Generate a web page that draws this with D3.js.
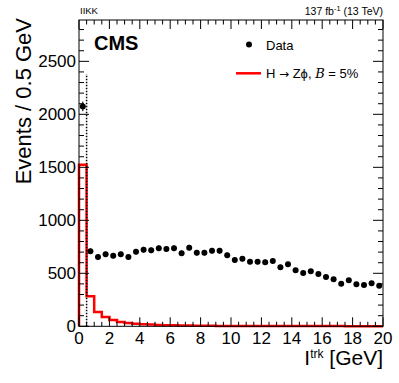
<!DOCTYPE html>
<html><head><meta charset="utf-8">
<script src="https://cdn.jsdelivr.net/npm/d3@7"></script>
<style>body{margin:0;background:#fff}svg{display:block;font-family:"Liberation Sans",Arial,sans-serif}</style>
</head><body>
<svg id="c" width="399" height="383"></svg>
<script>
// bin edges: 0..20 in 0.5 GeV steps (40 bins)
const binLow = d3.range(0, 20, 0.5);
const dataCounts = [2075,708,654,679,666,679,654,704,723,717,736,729,736,689,742,694,694,713,713,670,
  625,638,610,610,604,616,557,585,528,503,519,493,465,443,402,434,396,390,406,383];
const signal = [1525,283,135,88,59,41,31,25,20,16,13,11,9,8,7,6,5,5,4,4,
  4,3,3,3,3,3,2,2,2,2,2,2,2,2,2,1,1,1,1,1];
const xTicks = [0,2,4,6,8,10,12,14,16,18,20];
const yTicks = [0,500,1000,1500,2000,2500];
const cutValue = 0.5, cutTop = 2380;

const svg = d3.select("#c");
const L=79, R=383, T=20, B=326.3;
const x = d3.scaleLinear().domain([0,20]).range([L,R]);
const y = d3.scaleLinear().domain([0,2890]).range([B,T]);

// signal histogram outline
const pts = [[0,0]];
signal.forEach((v,i)=>{ pts.push([binLow[i],v]); pts.push([binLow[i]+0.5,v]); });
svg.append("path").attr("d", d3.line().x(d=>x(d[0])).y(d=>y(d[1]))(pts))
  .attr("fill","none").attr("stroke","#ff0000").attr("stroke-width",2.5);

// cut line
svg.append("line").attr("x1",x(cutValue)).attr("x2",x(cutValue)).attr("y1",y(0)).attr("y2",y(cutTop))
  .attr("stroke","#000").attr("stroke-width",1.5).attr("stroke-dasharray","1.5,1.5");

// data points with sqrt(N) error bars
const g = svg.append("g");
dataCounts.forEach((v,i)=>{
  const cx = x(binLow[i]+0.25), e=Math.sqrt(v);
  g.append("line").attr("x1",cx).attr("x2",cx).attr("y1",y(v-e)).attr("y2",y(v+e)).attr("stroke","#000").attr("stroke-width",1);
  g.append("circle").attr("cx",cx).attr("cy",y(v)).attr("r",3).attr("fill","#000");
});

// frame
svg.append("rect").attr("x",L).attr("y",T).attr("width",R-L).attr("height",B-T)
  .attr("fill","none").attr("stroke","#000").attr("stroke-width",1);

// ticks
const tk = svg.append("g").attr("stroke","#000").attr("stroke-width",1);
d3.range(0,20.001,0.5).forEach(v=>{
  const major = Math.abs(v/2-Math.round(v/2))<1e-6, len = major?9:4.5, px=x(v);
  tk.append("line").attr("x1",px).attr("x2",px).attr("y1",B).attr("y2",B-len);
  tk.append("line").attr("x1",px).attr("x2",px).attr("y1",T).attr("y2",T+len);
});
d3.range(0,2801,100).forEach(v=>{
  const major = v%500===0, len = major?10:5, py=y(v);
  tk.append("line").attr("x1",L).attr("x2",L+len).attr("y1",py).attr("y2",py);
  tk.append("line").attr("x1",R).attr("x2",R-len).attr("y1",py).attr("y2",py);
});

// tick labels
svg.append("g").selectAll("text").data(xTicks).join("text")
  .attr("x",d=>x(d)).attr("y",343.5).attr("text-anchor","middle").attr("font-size",17).text(d=>d);
svg.append("g").selectAll("text").data(yTicks).join("text")
  .attr("x",76).attr("y",d=>y(d)+6).attr("text-anchor","end").attr("font-size",17).text(d=>d);

// axis titles
const xt = svg.append("text").attr("x",R).attr("y",365).attr("text-anchor","end").attr("font-size",21);
xt.append("tspan").text("I");
xt.append("tspan").attr("dy",-7).attr("font-size",12).text("trk");
xt.append("tspan").attr("dy",7).text(" [GeV]");
svg.append("text").attr("transform","translate(31,18) rotate(-90)").attr("text-anchor","end")
  .attr("font-size",22).text("Events / 0.5 GeV");

// header texts
svg.append("text").attr("x",80).attr("y",14).attr("font-size",9.5).text("IIKK");
const lum = svg.append("text").attr("x",R).attr("y",15).attr("text-anchor","end").attr("font-size",10.5);
lum.append("tspan").text("137 fb");
lum.append("tspan").attr("dy",-4).attr("font-size",7.5).text("-1");
lum.append("tspan").attr("dy",4).text(" (13 TeV)");
svg.append("text").attr("x",94).attr("y",50).attr("font-size",20).attr("font-weight","bold").text("CMS");

// legend
svg.append("circle").attr("cx",249).attr("cy",44.5).attr("r",3).attr("fill","#000");
svg.append("text").attr("x",266).attr("y",49.5).attr("font-size",13).text("Data");
svg.append("line").attr("x1",236).attr("x2",261).attr("y1",73.3).attr("y2",73.3).attr("stroke","#ff0000").attr("stroke-width",2.5);
const lt = svg.append("text").attr("x",266).attr("y",78).attr("font-size",13);
lt.append("tspan").text("H ");
lt.append("tspan").attr("font-family","'DejaVu Sans',sans-serif").attr("font-size",12).text("\u2192");
lt.append("tspan").text(" Z\u03d5, ");
lt.append("tspan").attr("font-style","italic").attr("font-family","'DejaVu Serif',serif").text("B");
lt.append("tspan").text(" = 5%");
</script>
</body></html>
